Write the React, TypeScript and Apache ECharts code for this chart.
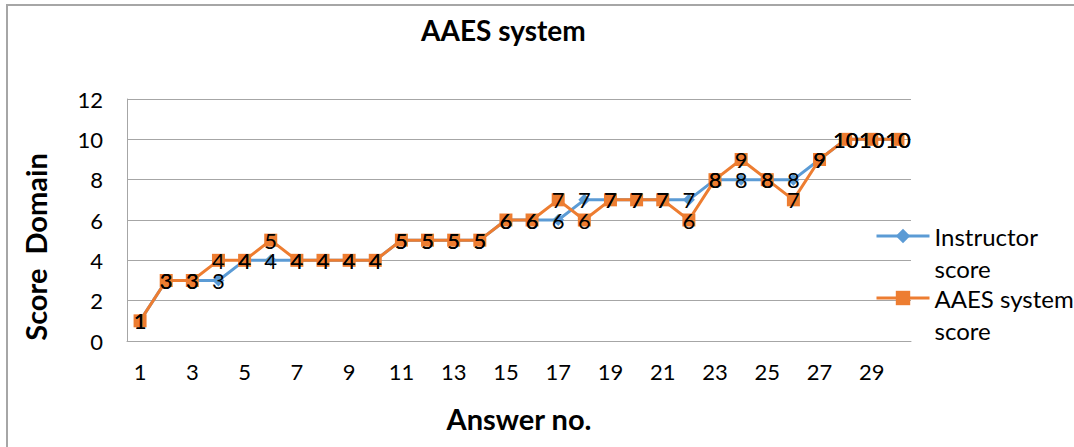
import React, { useEffect, useRef } from "react";
import * as echarts from "echarts";

const categories = ["1","2","3","4","5","6","7","8","9","10","11","12","13","14","15","16","17","18","19","20","21","22","23","24","25","26","27","28","29","30"];
const instructorScore = [1,3,3,3,4,4,4,4,4,4,5,5,5,5,6,6,6,7,7,7,7,7,8,8,8,8,9,10,10,10];
const aaesScore = [1,3,3,4,4,5,4,4,4,4,5,5,5,5,6,6,7,6,7,7,7,6,8,9,8,7,9,10,10,10];
const yTicks = { min: 0, max: 12, interval: 2 };

const FONT = "Lato";

export default function App() {
  const ref = useRef<HTMLDivElement>(null);
  useEffect(() => {
    if (!ref.current) return;
    const chart = echarts.init(ref.current, null, { renderer: "svg" });
    const labelStyle = {
      show: true,
      position: "inside",
      color: "#000",
      fontFamily: FONT,
      fontSize: 22,
    };
    const legendCommon = {
      orient: "vertical",
      left: 875,
      padding: 0,
      itemWidth: 53,
      itemHeight: 18,
      lineStyle: { width: 3 },
      textStyle: { fontFamily: FONT, fontSize: 24, lineHeight: 32, color: "#000" },
    };
    chart.setOption({
      animation: false,
      backgroundColor: "#fff",
      textStyle: { fontFamily: FONT },
      title: {
        text: "AAES system",
        left: 416,
        top: 11,
        textStyle: { fontFamily: FONT, fontSize: 28, fontWeight: "bold", color: "#000" },
      },
      graphic: [
        {
          type: "rect",
          shape: { x: 7, y: 5, width: 1100, height: 480 },
          style: { fill: "none", stroke: "#a6a6a6", lineWidth: 2 },
          silent: true,
        },
      ],
      legend: [
        {
          ...legendCommon,
          data: ["Instructor score"],
          top: 188,
          formatter: () => "\nInstructor\nscore",
        },
        {
          ...legendCommon,
          data: ["AAES system score"],
          top: 250,
          formatter: () => "\nAAES system\nscore",
        },
      ],
      grid: { left: 127, right: 163, top: 99, bottom: 106, containLabel: false, outerBoundsMode: "none" },
      xAxis: {
        type: "category",
        data: categories,
        boundaryGap: true,
        name: "Answer no.",
        nameLocation: "middle",
        nameGap: 63,
        nameTextStyle: { fontFamily: FONT, fontSize: 29, fontWeight: "bold", color: "#000" },
        axisLine: { show: true, lineStyle: { color: "#a6a6a6", width: 1 } },
        axisTick: { show: false },
        axisLabel: { interval: 1, margin: 19, fontFamily: FONT, fontSize: 22, color: "#000" },
        splitLine: { show: false },
      },
      yAxis: {
        type: "value",
        min: yTicks.min,
        max: yTicks.max,
        interval: yTicks.interval,
        name: "Score  Domain",
        nameLocation: "middle",
        nameGap: 77,
        nameTextStyle: {
          fontFamily: FONT,
          fontSize: 29,
          fontWeight: "bold",
          color: "#000",
          padding: [0, 54, 0, 0],
        },
        axisLine: { show: true, lineStyle: { color: "#a6a6a6", width: 1 } },
        axisTick: { show: false },
        axisLabel: { margin: 24, fontFamily: FONT, fontSize: 22, color: "#000" },
        splitLine: { show: true, lineStyle: { color: "#a6a6a6", width: 1 } },
      },
      series: [
        {
          name: "Instructor score",
          type: "line",
          data: instructorScore,
          color: "#5B9BD5",
          symbol: "diamond",
          symbolSize: 12,
          lineStyle: { width: 3, color: "#5B9BD5" },
          itemStyle: { color: "#5B9BD5" },
          label: labelStyle,
        },
        {
          name: "AAES system score",
          type: "line",
          data: aaesScore,
          color: "#ED7D31",
          symbol: "rect",
          symbolSize: 13,
          lineStyle: { width: 3, color: "#ED7D31" },
          itemStyle: { color: "#ED7D31" },
          label: labelStyle,
        },
      ],
    });
    return () => chart.dispose();
  }, []);
  return (
    <div style={{ position: "absolute", left: 0, top: 0, width: 1074, height: 447 }}>
      <div ref={ref} style={{ width: 1074, height: 447 }} />
    </div>
  );
}
